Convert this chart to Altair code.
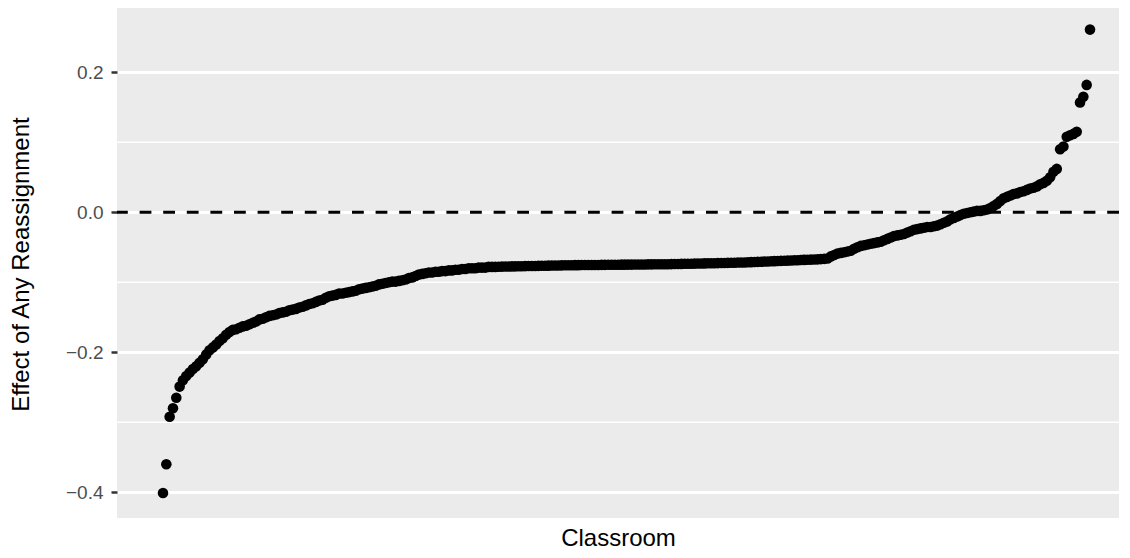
import altair as alt
import pandas as pd

# Effect of any reassignment, classrooms sorted from lowest to highest
lower_tail = [
    -0.401, -0.360, -0.292, -0.280, -0.265, -0.249, -0.240, -0.234, -0.229, -0.224,
    -0.220, -0.215, -0.210, -0.203, -0.197, -0.193, -0.189, -0.184, -0.180, -0.175,
    -0.171, -0.168, -0.167, -0.165, -0.163, -0.162, -0.160, -0.158, -0.156, -0.153,
    -0.152, -0.150, -0.148, -0.147, -0.146, -0.144, -0.143, -0.142, -0.140, -0.139,
    -0.138, -0.136, -0.135, -0.133, -0.131, -0.130, -0.128, -0.126, -0.125, -0.122,
    -0.120, -0.119, -0.118, -0.116, -0.116, -0.115, -0.114, -0.113, -0.112, -0.110,
    -0.109, -0.108, -0.107, -0.106, -0.105, -0.103, -0.102, -0.101, -0.100, -0.099,
    -0.099, -0.098, -0.097, -0.096, -0.094, -0.093, -0.091, -0.089, -0.088, -0.087,
    -0.086, -0.086, -0.085, -0.085, -0.084, -0.084, -0.083, -0.083, -0.082, -0.082,
    -0.081, -0.081, -0.080, -0.080, -0.080, -0.079, -0.079, -0.079, -0.078, -0.078,
]
middle = [
    -0.0780, -0.0778, -0.0776, -0.0775, -0.0774, -0.0773, -0.0772, -0.0771, -0.0770, -0.0769,
    -0.0768, -0.0767, -0.0766, -0.0765, -0.0764, -0.0763, -0.0762, -0.0761, -0.0760, -0.0759,
    -0.0758, -0.0757, -0.0756, -0.0756, -0.0755, -0.0755, -0.0754, -0.0754, -0.0753, -0.0753,
    -0.0752, -0.0752, -0.0751, -0.0751, -0.0750, -0.0750, -0.0749, -0.0749, -0.0748, -0.0748,
    -0.0747, -0.0747, -0.0746, -0.0746, -0.0745, -0.0745, -0.0744, -0.0744, -0.0743, -0.0743,
    -0.0742, -0.0742, -0.0741, -0.0740, -0.0739, -0.0738, -0.0737, -0.0736, -0.0735, -0.0734,
    -0.0733, -0.0732, -0.0731, -0.0730, -0.0729, -0.0728, -0.0727, -0.0726, -0.0725, -0.0724,
    -0.0722, -0.0721, -0.0720, -0.0718, -0.0717, -0.0716, -0.0714, -0.0712, -0.0710, -0.0708,
    -0.0706, -0.0704, -0.0702, -0.0700, -0.0698, -0.0696, -0.0694, -0.0692, -0.0690, -0.0688,
    -0.0686, -0.0684, -0.0682, -0.0680, -0.0678, -0.0676, -0.0674, -0.0672, -0.0669, -0.0665,
]
upper_tail = [
    -0.066, -0.063, -0.061, -0.059, -0.058, -0.057, -0.056, -0.055, -0.052, -0.050,
    -0.048, -0.047, -0.046, -0.045, -0.044, -0.043, -0.042, -0.040, -0.038, -0.036,
    -0.034, -0.033, -0.032, -0.031, -0.029, -0.027, -0.025, -0.024, -0.023, -0.022,
    -0.021, -0.021, -0.020, -0.019, -0.017, -0.015, -0.013, -0.010, -0.008, -0.006,
    -0.004, -0.002, -0.001, 0.000, 0.001, 0.002, 0.002, 0.003, 0.004, 0.006,
    0.009, 0.012, 0.016, 0.020, 0.022, 0.024, 0.026, 0.027, 0.029, 0.030,
    0.032, 0.034, 0.035, 0.037, 0.040, 0.042, 0.045, 0.050, 0.058, 0.062,
    0.090, 0.094, 0.108, 0.110, 0.112, 0.115, 0.157, 0.165, 0.182, 0.261,
]
effects = lower_tail + middle + upper_tail
ranks = list(range(1, len(effects) + 1))

y_breaks = [-0.4, -0.2, 0.0, 0.2]
y_minor = [-0.3, -0.1, 0.1]
ref_line = [0.0]

df = pd.DataFrame({"rank": ranks, "effect": effects})
df_minor = pd.DataFrame({"v": y_minor})
df_ref = pd.DataFrame({"v": ref_line})

FONT = "Liberation Sans"
x_scale = alt.Scale(domain=[-12.845, 288.728], nice=False, zero=False)
y_scale = alt.Scale(domain=[-0.43671, 0.29186], nice=False, zero=False)

minor = alt.Chart(df_minor).mark_rule(color="white", strokeWidth=1.5).encode(
    y=alt.Y("v:Q", scale=y_scale)
)

points = alt.Chart(df).mark_circle(color="black", opacity=1, size=112).encode(
    x=alt.X(
        "rank:Q",
        scale=x_scale,
        axis=alt.Axis(
            title="Classroom", labels=False, ticks=False, grid=False, domain=False,
            titleFont=FONT, titleFontSize=24, titleFontWeight="normal", titleColor="black",
            titleY=32, titleBaseline="bottom",
        ),
    ),
    y=alt.Y(
        "effect:Q",
        scale=y_scale,
        axis=alt.Axis(
            title="Effect of Any Reassignment", values=y_breaks,
            labelExpr="replace(format(datum.value, '.1f'), '-', '\u2212')",
            labelFont=FONT, labelFontSize=19, labelColor="#4D4D4D", labelPadding=8,
            ticks=True, tickColor="#333333", tickSize=6, tickWidth=2.5,
            domain=False, grid=True, gridColor="white", gridWidth=3,
            titleFont=FONT, titleFontSize=24, titleFontWeight="normal", titleColor="black",
            titleX=-96, titleY=256, titleAlign="center", titleBaseline="middle", titleAngle=-90,
        ),
    ),
)

hline = alt.Chart(df_ref).mark_rule(color="black", strokeWidth=3, strokeDash=[11.8, 11.8]).encode(
    y=alt.Y("v:Q", scale=y_scale)
)

chart = alt.layer(minor, points, hline).properties(
    width=1002,
    height=510,
    autosize=alt.AutoSizeParams(type="none"),
    padding={"left": 109, "top": 0, "right": 3, "bottom": 32},
).configure_view(fill="#EBEBEB", stroke=None)

chart.save("out.html", embed_options={"renderer": "svg", "actions": False})
